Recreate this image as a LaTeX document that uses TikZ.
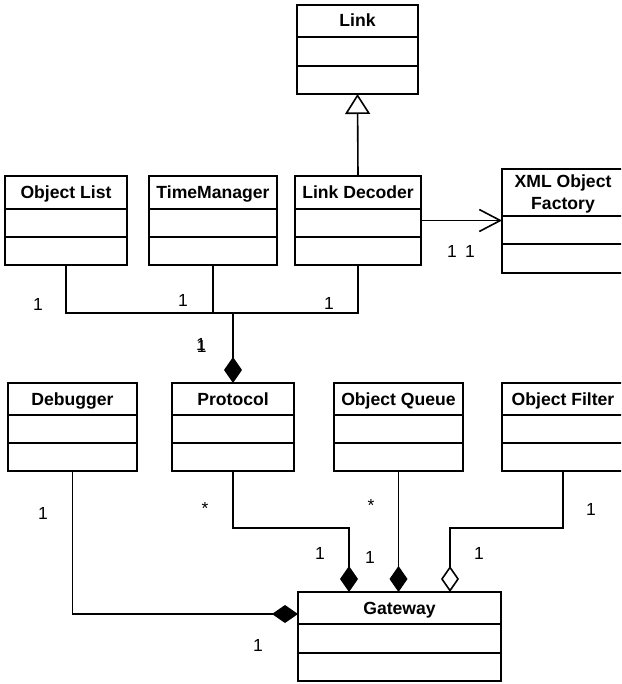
\documentclass[tikz,border=0pt]{standalone}
\usepackage{fontspec}
\setmainfont{Liberation Sans}
\usetikzlibrary{arrows.meta}
\tikzset{
 clsbox/.style={draw, line width=1.7pt, inner sep=0pt, outer sep=0pt},
 clstitle/.style={font=\bfseries\fontsize{17.6}{22}\selectfont, anchor=base, inner sep=0pt},
 mult/.style={font=\fontsize{17.5}{20}\selectfont, inner sep=0pt},
 conn/.style={line width=1.6pt},
 comp/.style={conn, -{Diamond[length=26pt,width=18pt]}},
 aggr/.style={conn, -{Diamond[length=26pt,width=18pt,fill=white]}},
 inherit/.style={conn, -{Triangle[length=20pt,width=25pt,fill=white]}},
 nav/.style={conn, -{Straight Barb[length=21pt,width=22pt]}},
}
\newcommand\umlcls[8]{%
 \node[clsbox, minimum width={(#4-#2)*1pt}, minimum height={(#5-#3)*1pt}, anchor=north west] (#1) at (#2,#3) {};
 \draw[line width=1.7pt] (#2,#6) -- (#4,#6) (#2,#7) -- (#4,#7);
 \node[clstitle] at ({(#2+#4)/2},{(#3+#6)/2+6}) {#8};
}
\begin{document}
\begin{tikzpicture}[x=1pt,y=-1pt]
\path[use as bounding box, clip] (0,0) rectangle (621,684);
\fill[white] (0,0) rectangle (621,684);
% classes
\umlcls{link}{297}{5}{418}{94}{37}{66}{Link}
\umlcls{ol}{5}{176}{127}{265}{209}{237}{Object List}
\umlcls{tm}{149}{176}{277}{265}{209}{237}{TimeManager}
\umlcls{ld}{295}{176}{421}{265}{209}{237}{Link Decoder}
\umlcls{xml}{502}{169}{624}{273}{216}{244}{}
\node[font=\bfseries\fontsize{17.6}{22}\selectfont, align=center, inner sep=0pt] at (563,193.5) {XML Object\\Factory};
\umlcls{db}{8}{383}{137}{471}{415}{443}{Debugger}
\umlcls{pr}{172}{383}{294}{471}{415}{443}{Protocol}
\umlcls{oq}{334}{383}{463}{471}{415}{443}{Object Queue}
\umlcls{of}{502}{383}{624}{471}{415}{443}{Object Filter}
\umlcls{gw}{298}{592}{501}{681}{624}{653}{Gateway}
% coordinates
\coordinate (j) at (233,313);
\coordinate (gwL) at (298,614);
\coordinate (gwA) at (349,592);
\coordinate (gwB) at (398.5,592);
\coordinate (gwC) at (450,592);
% connectors
\draw[inherit] (ld.north) -- (link.south);
\draw[nav] (ld.east) -- (ld.east -| xml.west);
\draw[conn] (ol.south) |- (ld.south |- j) -- (ld.south);
\draw[conn] (tm.south) -- (tm.south |- j);
\draw[comp, line width=2pt] (j) -- (pr.north);
\draw[comp] (db.south) |- (gwL);
\draw[comp] (pr.south) -- ++(0,57) -| (gwA);
\draw[comp] (oq.south) -- (gwB);
\draw[aggr] (of.south) -- ++(0,57) -| (gwC);
% multiplicities
\node[mult] (m1) at (38,304) {1};
\node[mult] (m2) at (183,300) {1};
\node[mult] (m3) at (329,303) {1};
\node[mult] (m4) at (201,344.5) {1};
\node[mult] (m4b) at (201.8,346) {1};
\node[mult] (m5) at (452,251) {1};
\node[mult] (m6) at (470,251) {1};
\node[mult] (m7) at (43,513) {1};
\node[mult] (m8) at (205,508.5) {*};
\node[mult] (m9) at (258,645) {1};
\node[mult] (m10) at (371,505.5) {*};
\node[mult] (m11) at (320,553) {1};
\node[mult] (m12) at (370,557) {1};
\node[mult] (m13) at (479,553) {1};
\node[mult] (m14) at (591,509) {1};
\end{tikzpicture}
\end{document}
